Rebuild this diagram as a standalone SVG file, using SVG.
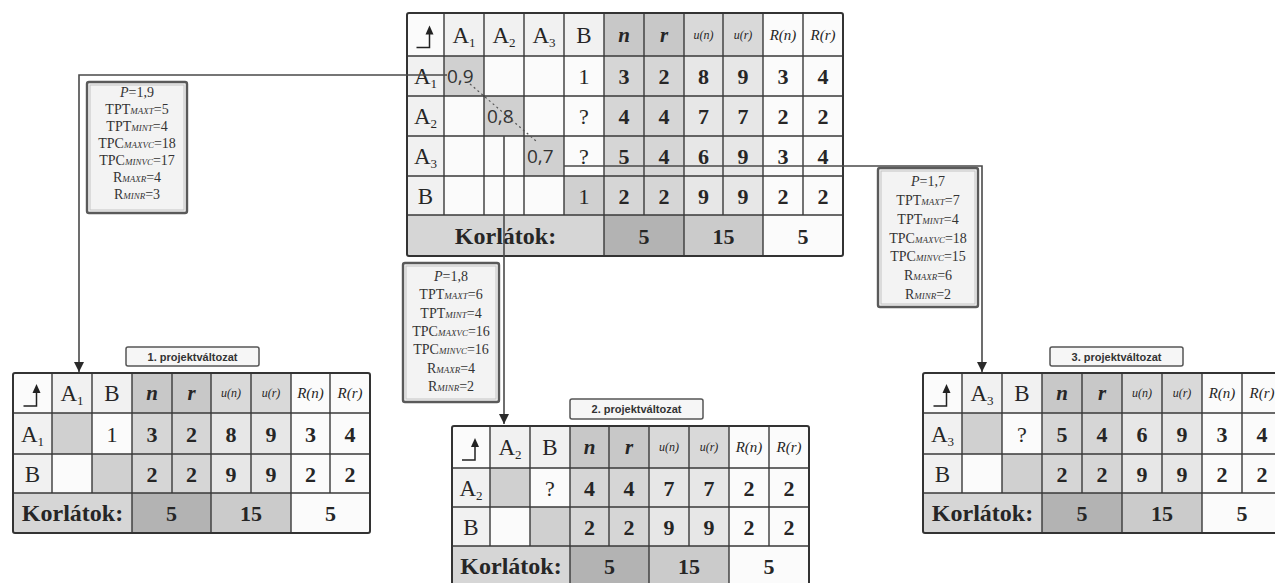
<svg xmlns="http://www.w3.org/2000/svg" xmlns:xlink="http://www.w3.org/1999/xlink" width="1275" height="583" viewBox="0 0 1275 583">
<defs>
<style>
.grid{fill:none;stroke:#3a3a3a;stroke-width:1.4}
.outer{fill:none;stroke:#333;stroke-width:2}
.bg{fill:#fbfbfb}
.lab{fill:#f1f1f1}
.f1{fill:#c8c8c8}
.f2{fill:#d6d6d6}
.f3{fill:#d9d9d9}
.f4{fill:#e7e7e7}
.fd{fill:#d0d0d0}
.fk1{fill:#d6d6d6}
.fk2{fill:#b3b3b3}
.fk3{fill:#cbcbcb}
text{font-family:"Liberation Serif",serif;fill:#262626;text-anchor:middle}
.h{font-size:23px}
.sub{font-size:13px}
.d{font-size:22px;font-weight:bold}
.q{font-size:22px}
.it{font-size:21px;font-style:italic;font-weight:bold}
.u{font-size:12px;font-style:italic}
.R{font-size:15px;font-style:italic}
.k{font-size:24px;font-weight:bold}
.z{font-family:"Open Sans",sans-serif;font-size:19px;fill:#333;text-anchor:start}
.box{fill:#f3f3f3;stroke:#5a5a5a;stroke-width:2.4}
.boxin{fill:none;stroke:#c4c4c4;stroke-width:1}
.bx{font-size:14px;fill:#333}
.sb{font-size:9px;font-style:italic}
.tag{fill:#f6f6f6;stroke:#555;stroke-width:1.5}
.tagt{font-family:"Liberation Sans",sans-serif;font-size:11px;font-weight:bold;fill:#333}
.con{fill:none;stroke:#4a4a4a;stroke-width:1.6}
.dash{fill:none;stroke:#555;stroke-width:1.2;stroke-dasharray:2 3}
</style>
<marker id="ah" viewBox="0 0 10 10" refX="10" refY="5" markerWidth="10" markerHeight="10" orient="auto" markerUnits="userSpaceOnUse">
<path d="M0,0 L10,5 L0,10 z" fill="#2a2a2a"/>
</marker>
<g id="ico">
<path d="M-9,13 H4 V-1" fill="none" stroke="#222" stroke-width="1.5"/>
<path d="M4,-9 L0,0 L8,0 z" fill="#222"/>
</g>
</defs>

<!-- Top table -->
<g id="table-main">
<rect class="bg" x="407" y="13" width="436" height="243"/>
<rect class="lab" x="444" y="13" width="160" height="43"/>
<rect class="lab" x="407" y="56" width="37" height="159"/>
<rect class="f1" x="604" y="13" width="80" height="43"/>
<rect class="f2" x="604" y="56" width="80" height="159"/>
<rect class="f3" x="684" y="13" width="79" height="43"/>
<rect class="f4" x="684" y="56" width="79" height="159"/>
<rect class="fd" x="444" y="56" width="40" height="40"/>
<rect class="fd" x="484" y="96" width="40" height="40"/>
<rect class="fd" x="524" y="136" width="40" height="40"/>
<rect class="fd" x="564" y="176" width="40" height="39"/>
<rect class="fk1" x="407" y="215" width="197" height="41"/>
<rect class="fk2" x="604" y="215" width="80" height="41"/>
<rect class="fk3" x="684" y="215" width="79" height="41"/>
<path class="grid" d="M444,13V215M484,13V215M524,13V215M564,13V215M644,13V215M723,13V215M803,13V215M604,13V256M684,13V256M763,13V256M407,56H843M407,96H843M407,136H843M407,176H843M407,215H843"/>
<rect class="outer" x="407" y="13" width="436" height="243" rx="2"/>
<use xlink:href="#ico" x="425.5" y="34.5"/>
<text class="h" x="464" y="43">A<tspan class="sub" dy="4">1</tspan></text>
<text class="h" x="504" y="43">A<tspan class="sub" dy="4">2</tspan></text>
<text class="h" x="544" y="43">A<tspan class="sub" dy="4">3</tspan></text>
<text class="h" x="584" y="43">B</text>
<text class="it" x="624" y="42">n</text>
<text class="it" x="664" y="42">r</text>
<text class="u" x="703.5" y="39">u(n)</text>
<text class="u" x="743" y="39">u(r)</text>
<text class="R" x="783" y="40">R(n)</text>
<text class="R" x="823" y="40">R(r)</text>
<text class="h" x="425.5" y="84">A<tspan class="sub" dy="4">1</tspan></text>
<text class="h" x="425.5" y="124">A<tspan class="sub" dy="4">2</tspan></text>
<text class="h" x="425.5" y="164">A<tspan class="sub" dy="4">3</tspan></text>
<text class="h" x="425.5" y="204">B</text>
<text class="z" x="447" y="83">0,9</text>
<text class="z" x="487" y="123">0,8</text>
<text class="z" x="527" y="163">0,7</text>
<text class="q" x="584" y="84">1</text>
<text class="d" x="624" y="84">3</text><text class="d" x="664" y="84">2</text><text class="d" x="703.5" y="84">8</text><text class="d" x="743" y="84">9</text><text class="d" x="783" y="84">3</text><text class="d" x="823" y="84">4</text>
<text class="q" x="584" y="124">?</text>
<text class="d" x="624" y="124">4</text><text class="d" x="664" y="124">4</text><text class="d" x="703.5" y="124">7</text><text class="d" x="743" y="124">7</text><text class="d" x="783" y="124">2</text><text class="d" x="823" y="124">2</text>
<text class="q" x="584" y="164">?</text>
<text class="d" x="624" y="164">5</text><text class="d" x="664" y="164">4</text><text class="d" x="703.5" y="164">6</text><text class="d" x="743" y="164">9</text><text class="d" x="783" y="164">3</text><text class="d" x="823" y="164">4</text>
<text class="q" x="584" y="204">1</text>
<text class="d" x="624" y="204">2</text><text class="d" x="664" y="204">2</text><text class="d" x="703.5" y="204">9</text><text class="d" x="743" y="204">9</text><text class="d" x="783" y="204">2</text><text class="d" x="823" y="204">2</text>
<text class="k" x="505.5" y="244">Korlátok:</text>
<text class="d" x="644" y="244">5</text>
<text class="d" x="723.5" y="244">15</text>
<text class="d" x="803" y="244">5</text>
</g>

<!-- Left table -->
<g id="table-1">
<rect class="bg" x="13" y="373" width="357" height="160"/>
<rect class="lab" x="52" y="373" width="80" height="40"/>
<rect class="lab" x="13" y="413" width="39" height="80"/>
<rect class="f1" x="132" y="373" width="79" height="40"/>
<rect class="f2" x="132" y="413" width="79" height="80"/>
<rect class="f3" x="211" y="373" width="80" height="40"/>
<rect class="f4" x="211" y="413" width="80" height="80"/>
<rect class="fd" x="52" y="413" width="40" height="41"/>
<rect class="fd" x="92" y="454" width="40" height="39"/>
<rect class="fk1" x="13" y="493" width="119" height="40"/>
<rect class="fk2" x="132" y="493" width="79" height="40"/>
<rect class="fk3" x="211" y="493" width="80" height="40"/>
<path class="grid" d="M52,373V493M92,373V493M172,373V493M251,373V493M330,373V493M132,373V533M211,373V533M291,373V533M13,413H370M13,454H370M13,493H370"/>
<rect class="outer" x="13" y="373" width="357" height="160" rx="2"/>
<use xlink:href="#ico" x="32.5" y="393"/>
<text class="h" x="72" y="401">A<tspan class="sub" dy="4">1</tspan></text>
<text class="h" x="112" y="401">B</text>
<text class="it" x="152" y="400">n</text>
<text class="it" x="191.5" y="400">r</text>
<text class="u" x="231" y="397">u(n)</text>
<text class="u" x="271" y="397">u(r)</text>
<text class="R" x="310.5" y="398">R(n)</text>
<text class="R" x="350" y="398">R(r)</text>
<text class="h" x="32.5" y="442">A<tspan class="sub" dy="4">1</tspan></text>
<text class="h" x="32.5" y="482">B</text>
<text class="q" x="112" y="442">1</text>
<text class="d" x="152" y="442">3</text><text class="d" x="191.5" y="442">2</text><text class="d" x="231" y="442">8</text><text class="d" x="271" y="442">9</text><text class="d" x="310.5" y="442">3</text><text class="d" x="350" y="442">4</text>
<text class="d" x="152" y="482">2</text><text class="d" x="191.5" y="482">2</text><text class="d" x="231" y="482">9</text><text class="d" x="271" y="482">9</text><text class="d" x="310.5" y="482">2</text><text class="d" x="350" y="482">2</text>
<text class="k" x="72.5" y="521">Korlátok:</text>
<text class="d" x="171.5" y="521">5</text>
<text class="d" x="251" y="521">15</text>
<text class="d" x="330.5" y="521">5</text>
</g>

<!-- Middle table -->
<g id="table-2">
<rect class="bg" x="452" y="426" width="357" height="159"/>
<rect class="lab" x="490" y="426" width="80" height="42"/>
<rect class="lab" x="452" y="468" width="38" height="78"/>
<rect class="f1" x="570" y="426" width="79" height="42"/>
<rect class="f2" x="570" y="468" width="79" height="78"/>
<rect class="f3" x="649" y="426" width="80" height="42"/>
<rect class="f4" x="649" y="468" width="80" height="78"/>
<rect class="fd" x="490" y="468" width="40" height="39"/>
<rect class="fd" x="530" y="507" width="40" height="39"/>
<rect class="fk1" x="452" y="546" width="118" height="39"/>
<rect class="fk2" x="570" y="546" width="79" height="39"/>
<rect class="fk3" x="649" y="546" width="80" height="39"/>
<path class="grid" d="M490,426V546M530,426V546M609,426V546M689,426V546M769,426V546M570,426V585M649,426V585M729,426V585M452,468H809M452,507H809M452,546H809"/>
<rect class="outer" x="452" y="426" width="357" height="159" rx="2"/>
<use xlink:href="#ico" x="471" y="447"/>
<text class="h" x="510" y="455">A<tspan class="sub" dy="4">2</tspan></text>
<text class="h" x="550" y="455">B</text>
<text class="it" x="589.5" y="454">n</text>
<text class="it" x="629" y="454">r</text>
<text class="u" x="669" y="451">u(n)</text>
<text class="u" x="709" y="451">u(r)</text>
<text class="R" x="749" y="452">R(n)</text>
<text class="R" x="789" y="452">R(r)</text>
<text class="h" x="471" y="496">A<tspan class="sub" dy="4">2</tspan></text>
<text class="h" x="471" y="535">B</text>
<text class="q" x="550" y="496">?</text>
<text class="d" x="589.5" y="496">4</text><text class="d" x="629" y="496">4</text><text class="d" x="669" y="496">7</text><text class="d" x="709" y="496">7</text><text class="d" x="749" y="496">2</text><text class="d" x="789" y="496">2</text>
<text class="d" x="589.5" y="535">2</text><text class="d" x="629" y="535">2</text><text class="d" x="669" y="535">9</text><text class="d" x="709" y="535">9</text><text class="d" x="749" y="535">2</text><text class="d" x="789" y="535">2</text>
<text class="k" x="511" y="574">Korlátok:</text>
<text class="d" x="609.5" y="574">5</text>
<text class="d" x="689" y="574">15</text>
<text class="d" x="769" y="574">5</text>
</g>

<!-- Right table -->
<g id="table-3">
<rect class="bg" x="923" y="373" width="359" height="160"/>
<rect class="lab" x="962" y="373" width="80" height="40"/>
<rect class="lab" x="923" y="413" width="39" height="80"/>
<rect class="f1" x="1042" y="373" width="80" height="40"/>
<rect class="f2" x="1042" y="413" width="80" height="80"/>
<rect class="f3" x="1122" y="373" width="80" height="40"/>
<rect class="f4" x="1122" y="413" width="80" height="80"/>
<rect class="fd" x="962" y="413" width="40" height="41"/>
<rect class="fd" x="1002" y="454" width="40" height="39"/>
<rect class="fk1" x="923" y="493" width="119" height="40"/>
<rect class="fk2" x="1042" y="493" width="80" height="40"/>
<rect class="fk3" x="1122" y="493" width="80" height="40"/>
<path class="grid" d="M962,373V493M1002,373V493M1082,373V493M1162,373V493M1242,373V493M1042,373V533M1122,373V533M1202,373V533M923,413H1282M923,454H1282M923,493H1282"/>
<rect class="outer" x="923" y="373" width="359" height="160" rx="2"/>
<use xlink:href="#ico" x="942.5" y="393"/>
<text class="h" x="982" y="401">A<tspan class="sub" dy="4">3</tspan></text>
<text class="h" x="1022" y="401">B</text>
<text class="it" x="1062" y="400">n</text>
<text class="it" x="1102" y="400">r</text>
<text class="u" x="1142" y="397">u(n)</text>
<text class="u" x="1182" y="397">u(r)</text>
<text class="R" x="1222" y="398">R(n)</text>
<text class="R" x="1262" y="398">R(r)</text>
<text class="h" x="942.5" y="442">A<tspan class="sub" dy="4">3</tspan></text>
<text class="h" x="942.5" y="482">B</text>
<text class="q" x="1022" y="442">?</text>
<text class="d" x="1062" y="442">5</text><text class="d" x="1102" y="442">4</text><text class="d" x="1142" y="442">6</text><text class="d" x="1182" y="442">9</text><text class="d" x="1222" y="442">3</text><text class="d" x="1262" y="442">4</text>
<text class="d" x="1062" y="482">2</text><text class="d" x="1102" y="482">2</text><text class="d" x="1142" y="482">9</text><text class="d" x="1182" y="482">9</text><text class="d" x="1222" y="482">2</text><text class="d" x="1262" y="482">2</text>
<text class="k" x="982.5" y="521">Korlátok:</text>
<text class="d" x="1082" y="521">5</text>
<text class="d" x="1162" y="521">15</text>
<text class="d" x="1242" y="521">5</text>
</g>

<!-- Connectors -->
<g id="connectors">
<path class="dash" d="M470,84 L536,141"/>
<path class="con" d="M447,75 H79 V372" marker-end="url(#ah)"/>
<path class="con" d="M504,136 V424" marker-end="url(#ah)"/>
<path class="con" d="M564,166 H982 V372" marker-end="url(#ah)"/>
</g>

<!-- Info boxes -->
<g id="box-1">
<rect class="box" x="87" y="82" width="100" height="131" rx="2"/>
<rect class="boxin" x="90" y="85" width="94" height="125"/>
<text class="bx" x="137" y="97"><tspan font-style="italic">P</tspan>=1,9</text>
<text class="bx" x="137" y="114">TPT<tspan class="sb">MAXT</tspan>=5</text>
<text class="bx" x="137" y="131">TPT<tspan class="sb">MINT</tspan>=4</text>
<text class="bx" x="137" y="148">TPC<tspan class="sb">MAXVC</tspan>=18</text>
<text class="bx" x="137" y="165">TPC<tspan class="sb">MINVC</tspan>=17</text>
<text class="bx" x="137" y="182">R<tspan class="sb">MAXR</tspan>=4</text>
<text class="bx" x="137" y="199">R<tspan class="sb">MINR</tspan>=3</text>
</g>
<g id="box-2">
<rect class="box" x="403" y="263" width="96" height="139" rx="2"/>
<rect class="boxin" x="406" y="266" width="90" height="133"/>
<text class="bx" x="451" y="281"><tspan font-style="italic">P</tspan>=1,8</text>
<text class="bx" x="451" y="299">TPT<tspan class="sb">MAXT</tspan>=6</text>
<text class="bx" x="451" y="318">TPT<tspan class="sb">MINT</tspan>=4</text>
<text class="bx" x="451" y="336">TPC<tspan class="sb">MAXVC</tspan>=16</text>
<text class="bx" x="451" y="354">TPC<tspan class="sb">MINVC</tspan>=16</text>
<text class="bx" x="451" y="373">R<tspan class="sb">MAXR</tspan>=4</text>
<text class="bx" x="451" y="391">R<tspan class="sb">MINR</tspan>=2</text>
</g>
<g id="box-3">
<rect class="box" x="878" y="168" width="100" height="139" rx="2"/>
<rect class="boxin" x="881" y="171" width="94" height="133"/>
<text class="bx" x="928" y="186"><tspan font-style="italic">P</tspan>=1,7</text>
<text class="bx" x="928" y="205">TPT<tspan class="sb">MAXT</tspan>=7</text>
<text class="bx" x="928" y="224">TPT<tspan class="sb">MINT</tspan>=4</text>
<text class="bx" x="928" y="243">TPC<tspan class="sb">MAXVC</tspan>=18</text>
<text class="bx" x="928" y="261">TPC<tspan class="sb">MINVC</tspan>=15</text>
<text class="bx" x="928" y="280">R<tspan class="sb">MAXR</tspan>=6</text>
<text class="bx" x="928" y="299">R<tspan class="sb">MINR</tspan>=2</text>
</g>

<!-- Variant labels -->
<g id="label-1">
<rect class="tag" x="126" y="347" width="133" height="19" rx="2"/>
<text class="tagt" x="192.5" y="361">1. projektváltozat</text>
</g>
<g id="label-2">
<rect class="tag" x="570" y="399" width="133" height="20" rx="2"/>
<text class="tagt" x="636.5" y="413">2. projektváltozat</text>
</g>
<g id="label-3">
<rect class="tag" x="1050" y="347" width="133" height="19" rx="2"/>
<text class="tagt" x="1116.5" y="361">3. projektváltozat</text>
</g>
</svg>
